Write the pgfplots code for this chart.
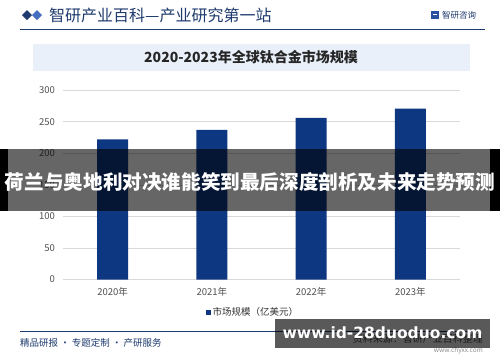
\documentclass[border=0pt]{standalone}
\usepackage{pgfplots}
\pgfplotsset{compat=1.18}
\usepackage{fontspec}
\setmainfont{Noto Sans CJK SC}
\newfontfamily\dejavu{DejaVu Sans}
\definecolor{barblue}{RGB}{14,55,130}
\definecolor{hdrblue}{RGB}{30,58,110}
\definecolor{lightdia}{RGB}{70,110,190}
\definecolor{logoblue}{RGB}{40,80,160}
\definecolor{titlebg}{RGB}{234,240,250}
\definecolor{tickgray}{RGB}{80,80,80}
\begin{document}
\begin{tikzpicture}[x=1pt,y=1pt]
\path[use as bounding box, fill=white] (0,0) rectangle (500,-362);
% header
\fill[hdrblue] (27,-10) -- (32,-15) -- (27,-20) -- (22,-15) -- cycle;
\fill[lightdia] (37,-10) -- (42,-15) -- (37,-20) -- (32,-15) -- cycle;
\node[anchor=west, text=hdrblue, font=\fontsize{16}{18}\selectfont, inner sep=0] at (49,-15) {智研产业百科—产业研究第一站};
\draw[hdrblue, line width=0.8pt] (20,-29.3) -- (485,-29.3);
\fill[logoblue] (431,-11) rectangle (439,-19);
\fill[white] (433,-13.5) rectangle (437,-15);
\node[anchor=west, text=hdrblue, font=\fontsize{8.5}{10}\selectfont, inner sep=0] at (442,-15) {智研咨询};
% title box
\fill[titlebg] (33,-44) rectangle (470,-71);
\node[text=black!85, font=\bfseries\fontsize{14}{16}\selectfont, inner sep=0] at (251,-57.5) {2020-2023年全球钛合金市场规模};
% axis
\begin{axis}[at={(63pt,-279.5pt)}, anchor=south west, scale only axis,
  width=397pt, height=189.3pt,
  xmin=-0.5, xmax=3.5, ymin=0, ymax=300,
  ytick={0,50,...,300}, xtick={0,1,2,3},
  xticklabels={2020年,2021年,2022年,2023年},
  ymajorgrids, grid style={black!15, line width=0.6pt},
  axis line style={draw=none}, major tick length=0pt,
  /pgf/number format/assume math mode=true,
  tick label style={text=tickgray, font=\fontsize{9.5}{11}\selectfont},
  yticklabel style={xshift=-4.5pt},
  xticklabel style={yshift=-4pt},
  clip=false]
\addplot[ybar, bar width=31pt, fill=barblue, draw=none] coordinates {(0,222) (1,237) (2,256) (3,271)};
\end{axis}
% legend
\fill[barblue] (206,-310) rectangle (210.5,-314.5);
\node[anchor=west, text=black!80, font=\fontsize{9.5}{11}\selectfont, inner sep=0] at (212.5,-312.3) {市场规模（亿美元）};
% footer
\draw[hdrblue, line width=0.8pt] (20,-331) -- (480,-331);
\node[anchor=west, text=hdrblue, font=\fontsize{9.5}{11}\selectfont, inner sep=0] at (20,-342.5) {精品研报 · 专题定制 · 产研服务};
\node[anchor=east, text=black!70, font=\fontsize{10}{11}\selectfont, inner sep=0] at (483,-339) {资料来源：智研产业百科整理};
\node[anchor=east, text=black!45, font=\fontsize{6.5}{8}\selectfont, inner sep=0] at (483,-351) {www.chyxx.com};
% watermark box
\fill[black, opacity=0.65] (275,-319) rectangle (490,-348);
\node[text=white, font=\dejavu\bfseries\fontsize{15.5}{18}\selectfont, inner sep=0] at (382.5,-333) {www.id-28duoduo.com};
% overlay band
\fill[black, opacity=0.6] (8,-149) rectangle (490,-211);
\fill[black] (0,-149) rectangle (8,-211);
\fill[black] (490,-149) rectangle (500,-211);
\node[text=white, font=\bfseries\fontsize{19.6}{22}\selectfont, inner sep=0] at (250,-182) {荷兰与奥地利对决谁能笑到最后深度剖析及未来走势预测};
\end{tikzpicture}
\end{document}
